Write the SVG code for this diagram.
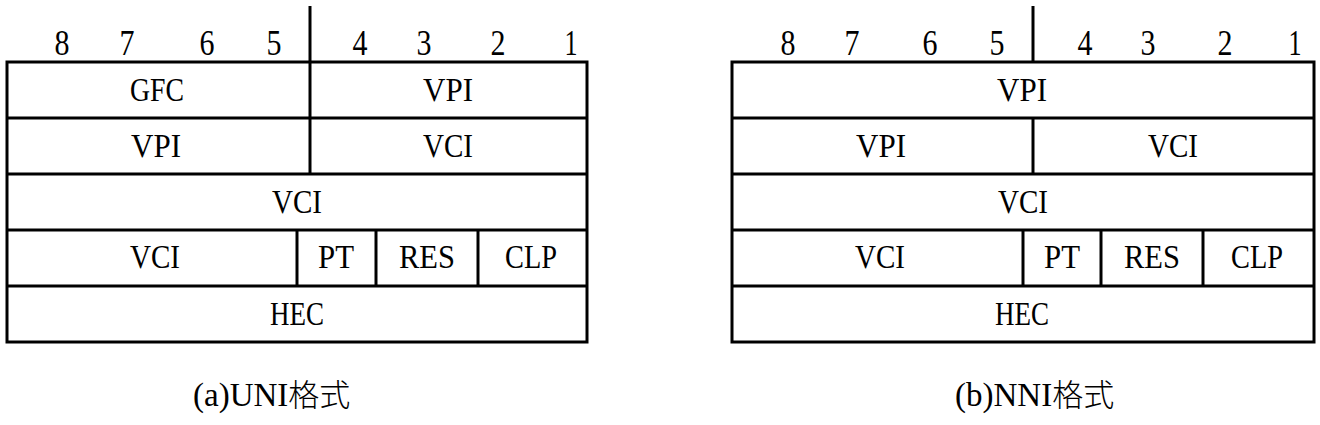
<svg xmlns="http://www.w3.org/2000/svg" width="1320" height="425" viewBox="0 0 1320 425">
<style>
.ln{stroke:#000;stroke-width:3;fill:none}
.bd{stroke:#000;stroke-width:3;fill:#fff}
.num{font-family:'Liberation Serif','Times New Roman','DejaVu Serif',serif;font-size:36px;font-weight:normal;text-anchor:middle;fill:#000}
.lbl{font-family:'Liberation Serif','Times New Roman','DejaVu Serif',serif;font-size:34px;font-weight:normal;text-anchor:middle;fill:#000}
.cap{font-family:'Liberation Serif','Times New Roman','DejaVu Serif','Noto Sans CJK SC',serif;font-size:33px;fill:#000}
.cjk{font-family:'Noto Sans CJK SC',sans-serif;font-size:31px;font-weight:300}
</style>
<rect width="1320" height="425" fill="#fff"/>
<g id="uni">
  <g id="uni-frame">
    <rect class="bd" x="7" y="62" width="580" height="280"/>
    <line class="ln" x1="7" y1="118" x2="587" y2="118"/>
    <line class="ln" x1="7" y1="174" x2="587" y2="174"/>
    <line class="ln" x1="7" y1="230" x2="587" y2="230"/>
    <line class="ln" x1="7" y1="286" x2="587" y2="286"/>
    <line class="ln" x1="310" y1="6" x2="310" y2="174"/>
    <line class="ln" x1="297" y1="230" x2="297" y2="286"/>
    <line class="ln" x1="376" y1="230" x2="376" y2="286"/>
    <line class="ln" x1="478" y1="230" x2="478" y2="286"/>
  </g>
  <g id="uni-bits">
    <text class="num" x="62" y="55" textLength="15" lengthAdjust="spacingAndGlyphs">8</text>
    <text class="num" x="127" y="55" textLength="15" lengthAdjust="spacingAndGlyphs">7</text>
    <text class="num" x="207" y="55" textLength="15" lengthAdjust="spacingAndGlyphs">6</text>
    <text class="num" x="274" y="55" textLength="15" lengthAdjust="spacingAndGlyphs">5</text>
    <text class="num" x="360" y="55" textLength="15" lengthAdjust="spacingAndGlyphs">4</text>
    <text class="num" x="424" y="55" textLength="15" lengthAdjust="spacingAndGlyphs">3</text>
    <text class="num" x="498" y="55" textLength="15" lengthAdjust="spacingAndGlyphs">2</text>
    <text class="num" x="571" y="55" textLength="13" lengthAdjust="spacingAndGlyphs">1</text>
  </g>
  <g id="uni-fields">
    <text class="lbl" x="157" y="101" textLength="54" lengthAdjust="spacingAndGlyphs">GFC</text>
    <text class="lbl" x="448" y="101" textLength="50" lengthAdjust="spacingAndGlyphs">VPI</text>
    <text class="lbl" x="156" y="157" textLength="50" lengthAdjust="spacingAndGlyphs">VPI</text>
    <text class="lbl" x="448" y="157" textLength="50" lengthAdjust="spacingAndGlyphs">VCI</text>
    <text class="lbl" x="297" y="213" textLength="50" lengthAdjust="spacingAndGlyphs">VCI</text>
    <text class="lbl" x="155" y="268" textLength="50" lengthAdjust="spacingAndGlyphs">VCI</text>
    <text class="lbl" x="336" y="268" textLength="36" lengthAdjust="spacingAndGlyphs">PT</text>
    <text class="lbl" x="427" y="268" textLength="56" lengthAdjust="spacingAndGlyphs">RES</text>
    <text class="lbl" x="531" y="268" textLength="52" lengthAdjust="spacingAndGlyphs">CLP</text>
    <text class="lbl" x="297" y="325" textLength="54" lengthAdjust="spacingAndGlyphs">HEC</text>
  </g>
  <text class="cap" x="193" y="406">(a)UNI<tspan class="cjk">格式</tspan></text>
</g>
<g id="nni">
  <g id="nni-frame">
    <rect class="bd" x="732" y="62" width="582" height="280"/>
    <line class="ln" x1="732" y1="118" x2="1314" y2="118"/>
    <line class="ln" x1="732" y1="174" x2="1314" y2="174"/>
    <line class="ln" x1="732" y1="230" x2="1314" y2="230"/>
    <line class="ln" x1="732" y1="286" x2="1314" y2="286"/>
    <line class="ln" x1="1033" y1="6" x2="1033" y2="62"/>
    <line class="ln" x1="1033" y1="118" x2="1033" y2="174"/>
    <line class="ln" x1="1023" y1="230" x2="1023" y2="286"/>
    <line class="ln" x1="1101" y1="230" x2="1101" y2="286"/>
    <line class="ln" x1="1203" y1="230" x2="1203" y2="286"/>
  </g>
  <g id="nni-bits">
    <text class="num" x="788" y="55" textLength="15" lengthAdjust="spacingAndGlyphs">8</text>
    <text class="num" x="852" y="55" textLength="15" lengthAdjust="spacingAndGlyphs">7</text>
    <text class="num" x="930" y="55" textLength="15" lengthAdjust="spacingAndGlyphs">6</text>
    <text class="num" x="997" y="55" textLength="15" lengthAdjust="spacingAndGlyphs">5</text>
    <text class="num" x="1085" y="55" textLength="15" lengthAdjust="spacingAndGlyphs">4</text>
    <text class="num" x="1148" y="55" textLength="15" lengthAdjust="spacingAndGlyphs">3</text>
    <text class="num" x="1225" y="55" textLength="15" lengthAdjust="spacingAndGlyphs">2</text>
    <text class="num" x="1295" y="55" textLength="13" lengthAdjust="spacingAndGlyphs">1</text>
  </g>
  <g id="nni-fields">
    <text class="lbl" x="1022" y="101" textLength="50" lengthAdjust="spacingAndGlyphs">VPI</text>
    <text class="lbl" x="881" y="157" textLength="50" lengthAdjust="spacingAndGlyphs">VPI</text>
    <text class="lbl" x="1173" y="157" textLength="50" lengthAdjust="spacingAndGlyphs">VCI</text>
    <text class="lbl" x="1023" y="213" textLength="50" lengthAdjust="spacingAndGlyphs">VCI</text>
    <text class="lbl" x="880" y="268" textLength="50" lengthAdjust="spacingAndGlyphs">VCI</text>
    <text class="lbl" x="1062" y="268" textLength="36" lengthAdjust="spacingAndGlyphs">PT</text>
    <text class="lbl" x="1152" y="268" textLength="56" lengthAdjust="spacingAndGlyphs">RES</text>
    <text class="lbl" x="1257" y="268" textLength="52" lengthAdjust="spacingAndGlyphs">CLP</text>
    <text class="lbl" x="1022" y="325" textLength="54" lengthAdjust="spacingAndGlyphs">HEC</text>
  </g>
  <text class="cap" x="955" y="406">(b)NNI<tspan class="cjk">格式</tspan></text>
</g>
</svg>
